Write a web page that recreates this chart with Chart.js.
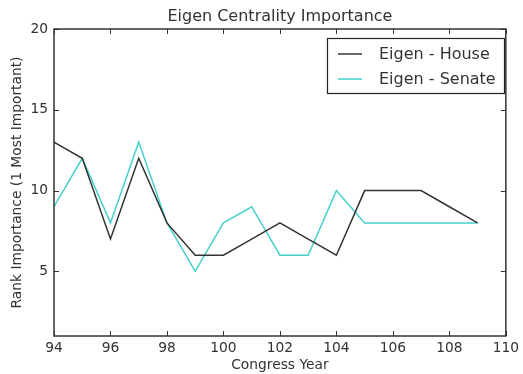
<!DOCTYPE html>
<html>
<head>
<meta charset="utf-8">
<script src="https://cdn.jsdelivr.net/npm/chart.js@4/dist/chart.umd.min.js"></script>
<style>
  html, body { margin: 0; padding: 0; background: #fff; }
  #wrap { width: 523px; height: 374px; }
</style>
</head>
<body>
<div id="wrap"><canvas id="eigenChart"></canvas></div>
<script>
// data
var years = [94, 95, 96, 97, 98, 99, 100, 101, 102, 103, 104, 105, 106, 107, 108, 109];
var houseRank = [13, 12, 7, 12, 8, 6, 6, 7, 8, 7, 6, 10, 10, 10, 9, 8];
var senateRank = [9, 12, 8, 13, 8, 5, 8, 9, 6, 6, 10, 8, 8, 8, 8, 8];
var xTicks = [94, 96, 98, 100, 102, 104, 106, 108, 110];
var yTicks = [5, 10, 15, 20];
var seriesNames = ['Eigen - House', 'Eigen - Senate'];

var FONT = "'DejaVu Sans', sans-serif";
var houseColor = '#333333';
var senateColor = '#45d0cb';
var textColor = '#333';

function toPoints(vals) {
    return years.map(function(y, i) { return { x: y, y: vals[i] }; });
}

// frame, inward ticks, title and legend (matplotlib look)
var decorPlugin = {
    id: 'decor',
    afterDraw: function(chart) {
        var c = chart.ctx, a = chart.chartArea;
        var xs = chart.scales.x, ys = chart.scales.y;
        c.save();
        c.strokeStyle = '#333';
        c.lineWidth = 1.5;
        c.strokeRect(a.left, a.top, a.right - a.left, a.bottom - a.top);
        c.lineWidth = 1;
        c.beginPath();
        xTicks.forEach(function(v) {
            var px = Math.round(xs.getPixelForValue(v)) + 0.5;
            c.moveTo(px, a.bottom); c.lineTo(px, a.bottom - 5);
            c.moveTo(px, a.top); c.lineTo(px, a.top + 5);
        });
        yTicks.forEach(function(v) {
            var py = Math.round(ys.getPixelForValue(v)) + 0.5;
            c.moveTo(a.left, py); c.lineTo(a.left + 5, py);
            c.moveTo(a.right, py); c.lineTo(a.right - 5, py);
        });
        c.stroke();

        // title
        c.fillStyle = textColor;
        c.font = '16px ' + FONT;
        c.textAlign = 'center';
        c.textBaseline = 'middle';
        c.fillText('Eigen Centrality Importance', (a.left + a.right) / 2, 17);

        // legend
        c.fillStyle = '#fff';
        c.fillRect(327, 38, 177, 55);
        c.strokeStyle = '#222';
        c.lineWidth = 1.2;
        c.strokeRect(327.5, 38.5, 177, 55);
        var colors = [houseColor, senateColor];
        var rows = [54, 79];
        c.textAlign = 'left';
        c.font = '16px ' + FONT;
        seriesNames.forEach(function(name, i) {
            c.strokeStyle = colors[i];
            c.lineWidth = 1.5;
            c.beginPath();
            c.moveTo(338, rows[i]); c.lineTo(362, rows[i]);
            c.stroke();
            c.fillStyle = textColor;
            c.fillText(name, 379, rows[i] + 1);
        });
        c.restore();
    }
};

document.addEventListener("DOMContentLoaded", function() {
    var ctx = document.getElementById('eigenChart').getContext('2d');
    new Chart(ctx, {
        type: 'line',
        data: {
            datasets: [
                {
                    label: seriesNames[0],
                    data: toPoints(houseRank),
                    borderColor: houseColor,
                    borderWidth: 1.5,
                    pointRadius: 0,
                    tension: 0,
                    fill: false
                },
                {
                    label: seriesNames[1],
                    data: toPoints(senateRank),
                    borderColor: senateColor,
                    borderWidth: 1.5,
                    pointRadius: 0,
                    tension: 0,
                    fill: false
                }
            ]
        },
        options: {
            responsive: true,
            maintainAspectRatio: false,
            animation: false,
            layout: { padding: { top: 29, right: 12, left: 0, bottom: 0 } },
            plugins: {
                legend: { display: false },
                title: { display: false },
                tooltip: { enabled: false }
            },
            scales: {
                x: {
                    type: 'linear',
                    min: 94,
                    max: 110,
                    afterBuildTicks: function(s) { s.ticks = xTicks.map(function(v) { return { value: v }; }); },
                    afterFit: function(s) { s.height = 38; },
                    grid: { display: false, drawTicks: false },
                    border: { display: false },
                    ticks: { color: textColor, padding: 4, maxRotation: 0, font: { family: FONT, size: 13.8 } },
                    title: { display: true, text: 'Congress Year', color: textColor, padding: { top: 0, bottom: 0 }, font: { family: FONT, size: 13.8 } }
                },
                y: {
                    min: 1,
                    max: 20,
                    afterBuildTicks: function(s) { s.ticks = yTicks.map(function(v) { return { value: v }; }); },
                    afterFit: function(s) { s.width = 54; },
                    grid: { display: false, drawTicks: false },
                    border: { display: false },
                    ticks: { color: textColor, padding: 6, font: { family: FONT, size: 13.8 } },
                    title: { display: true, text: 'Rank Importance (1 Most Important)', color: textColor, padding: { top: 9, bottom: 0 }, font: { family: FONT, size: 13.8 } }
                }
            }
        },
        plugins: [decorPlugin]
    });
});
</script>
</body>
</html>
